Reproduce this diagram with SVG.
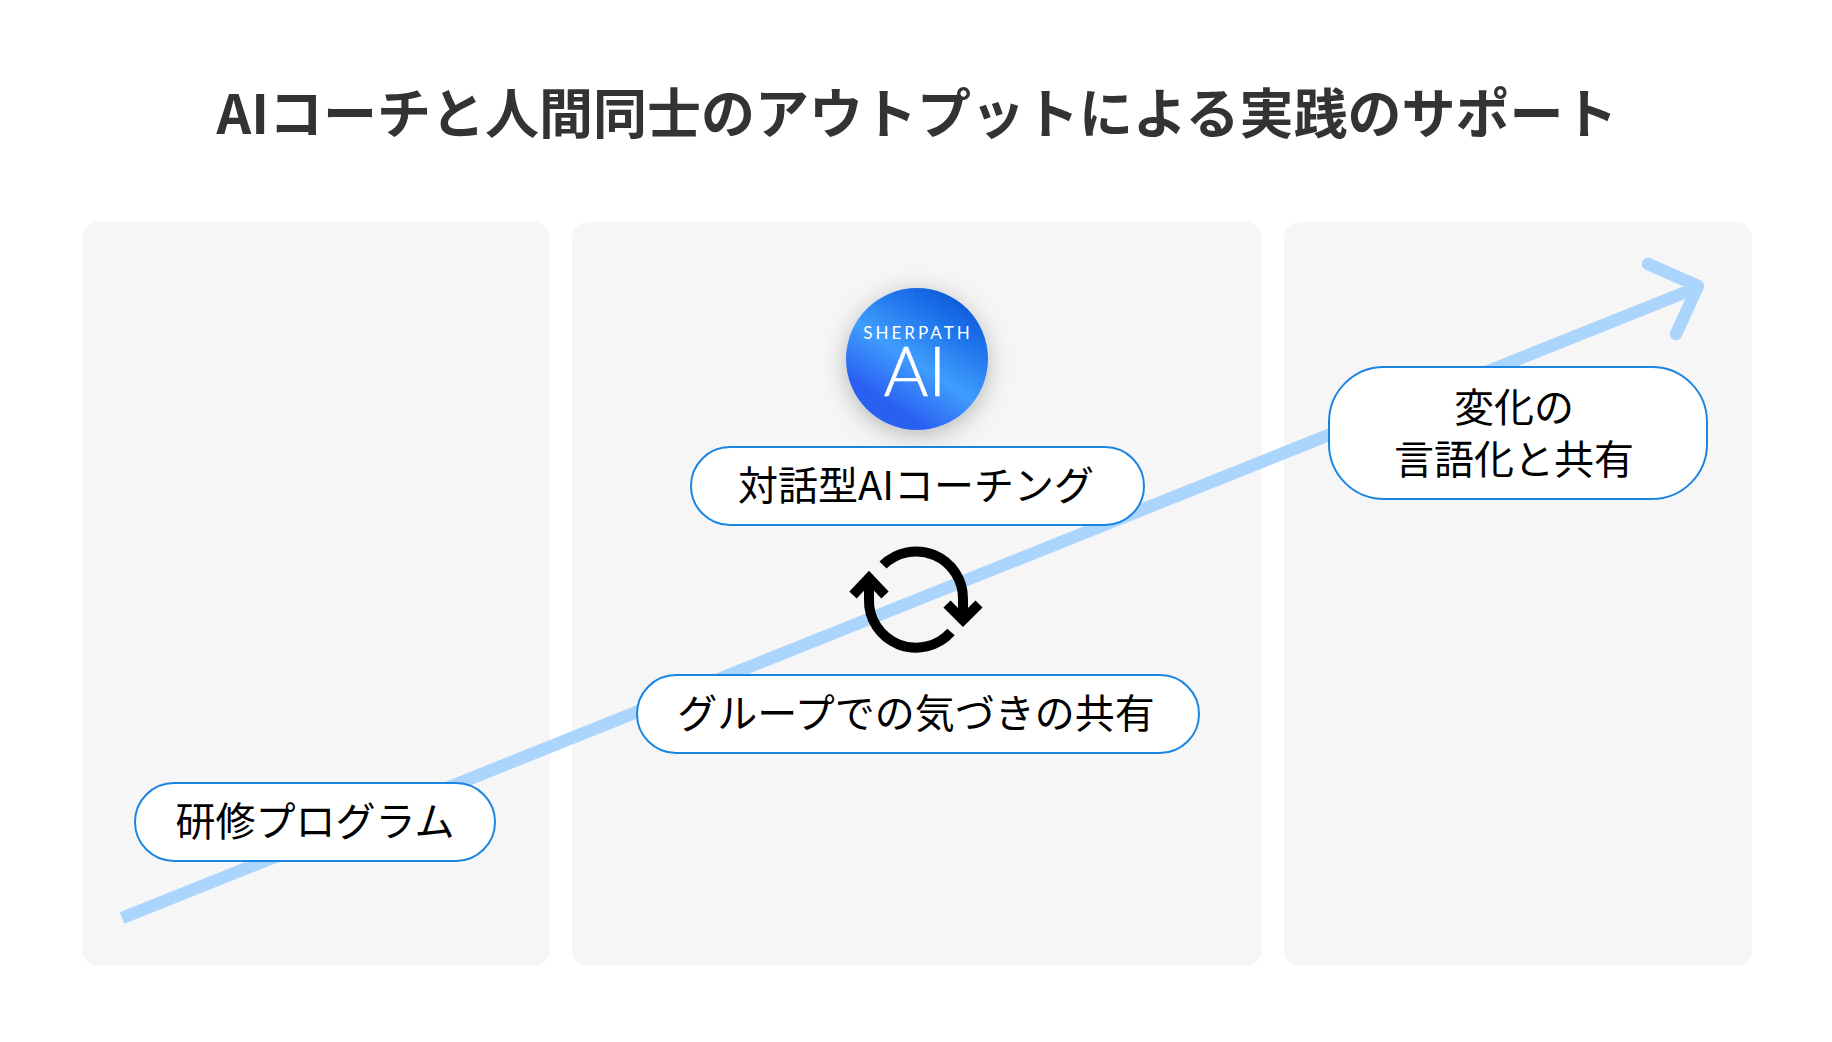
<svg xmlns="http://www.w3.org/2000/svg" width="1832" height="1042" viewBox="0 0 1832 1042">
<style>
.card{fill:#f6f6f6}
.pill{fill:#fff;stroke:#1a86e2;stroke-width:2}
.t{font-family:"Noto Sans CJK JP","Noto Sans",sans-serif;font-size:40px;font-weight:400;fill:#000;text-anchor:middle}
.title{font-family:"Noto Sans CJK JP","Noto Sans",sans-serif;font-size:54px;font-weight:700;fill:#333;text-anchor:middle}
.cyc{fill:none;stroke:#000;stroke-width:10}
.arr{fill:none;stroke:#acd5fd;stroke-width:12.5}
</style>
<defs>
<linearGradient id="g" x1="0.85" y1="0.05" x2="0.25" y2="0.95">
<stop offset="0" stop-color="#0a54d6"/>
<stop offset="0.25" stop-color="#1f75ec"/>
<stop offset="0.55" stop-color="#3f9dfd"/>
<stop offset="0.88" stop-color="#2a5ff2"/>
<stop offset="1" stop-color="#2a62ee"/>
</linearGradient>
<filter id="sh" x="-50%" y="-50%" width="200%" height="200%"><feDropShadow dx="0" dy="5" stdDeviation="12" flood-color="#000" flood-opacity="0.26"/></filter>
</defs>
<rect width="1832" height="1042" fill="#fff"/>
<text id="title" class="title" x="917" y="134">AIコーチと人間同士のアウトプットによる実践のサポート</text>
<g id="panels">
<rect class="card" x="82" y="222" width="468" height="744" rx="16"/>
<rect class="card" x="572" y="222" width="690" height="744" rx="16"/>
<rect class="card" x="1284" y="222" width="468" height="744" rx="16"/>
</g>
<g id="connectors">
<path class="arr" d="M122 918 L1696 288"/>
<path class="arr" stroke-linecap="round" stroke-linejoin="round" d="M1648 264 L1698 286 L1676 334"/>
<g id="cycle">
<path class="cyc" d="M883 565 A47 47 0 0 1 963 599 Q963 610 963 620"/>
<path class="cyc" d="M869 579 L869 599 A47 47 0 0 0 951 632"/>
<path class="cyc" d="M853 595 L869 578 L885 595"/>
<path class="cyc" d="M947 604 L963 620 L979 604"/>
</g>
</g>
<g id="n1"><rect class="pill" x="135" y="783" width="360" height="78" rx="39"/><text class="t" x="315" y="836">研修プログラム</text></g>
<g id="logo">
<circle cx="917" cy="359" r="71" fill="url(#g)" filter="url(#sh)"/>
<text x="918" y="339" text-anchor="middle" font-family="Lato,sans-serif" font-size="17" letter-spacing="3" fill="#fff">SHERPATH</text>
<text x="915" y="396" text-anchor="middle" font-family="Lato,sans-serif" font-weight="300" font-size="68" fill="#fff" stroke="#fff" stroke-width="0.7">AI</text>
</g>
<g id="n2"><rect class="pill" x="691" y="447" width="453" height="78" rx="39"/><text class="t" x="916" y="500">対話型AIコーチング</text></g>
<g id="n3"><rect class="pill" x="637" y="675" width="562" height="78" rx="39"/><text class="t" x="916" y="728">グループでの気づきの共有</text></g>
<g id="n4"><rect class="pill" x="1329" y="367" width="378" height="132" rx="55"/><text class="t" x="1514" y="422">変化の</text><text class="t" x="1514" y="474">言語化と共有</text></g>
</svg>
